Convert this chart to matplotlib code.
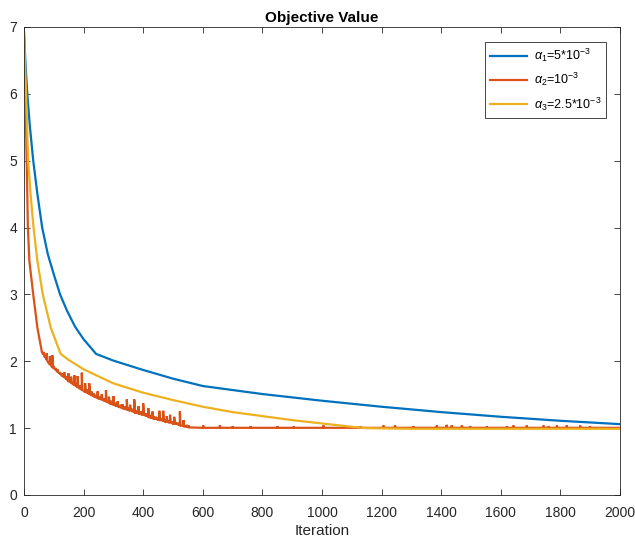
import numpy as np
import matplotlib
matplotlib.use("Agg")
import matplotlib.pyplot as plt

plt.rcParams['font.family'] = ['Liberation Sans', 'DejaVu Sans']
plt.rcParams['mathtext.fontset'] = 'custom'
plt.rcParams['mathtext.rm'] = 'Liberation Sans'
plt.rcParams['mathtext.it'] = 'Liberation Sans:italic'

# ---- data ----
blue_iter = [0, 5, 11, 20, 31, 45, 61, 80, 100, 121, 145, 171, 200, 242,
             300, 400, 500, 600, 700, 800, 900, 1000, 1200, 1400, 1600, 1800, 2000]
blue_val = [6.91, 6.45, 6.0, 5.5, 5.0, 4.5, 4.0, 3.6, 3.3, 3.0, 2.75, 2.52, 2.33, 2.11,
            2.01, 1.87, 1.74, 1.63, 1.57, 1.51, 1.46, 1.41, 1.32, 1.24, 1.17, 1.11, 1.06]

yellow_iter = [0, 3, 7, 14, 22, 32, 45, 63, 90, 123, 150, 200, 300, 400, 500, 600,
               700, 800, 900, 1000, 1100, 1150, 1300, 2000]
yellow_val = [6.91, 6.5, 6.0, 5.0, 4.5, 4.0, 3.5, 3.0, 2.5, 2.11, 2.02, 1.88, 1.67, 1.53,
              1.42, 1.32, 1.24, 1.18, 1.12, 1.07, 1.02, 1.0, 0.99, 0.99]

orange_iter = [0, 2, 5, 9, 13, 18, 31, 45, 60, 70, 80, 100, 121, 150, 205, 250, 289,
               330, 373, 420, 457, 500, 535, 560, 600, 2000]
orange_val = [6.91, 6.4, 6.0, 5.0, 4.0, 3.5, 3.0, 2.5, 2.14, 2.06, 1.99, 1.89, 1.81,
              1.70, 1.54, 1.45, 1.37, 1.30, 1.23, 1.17, 1.12, 1.07, 1.03, 1.01, 1.005, 1.005]

spike_iter = [65, 70, 76, 87, 95, 100, 106, 112, 121, 128, 135, 142, 149, 158, 169,
              175, 180, 187, 194, 205, 212, 219, 226, 233, 240, 247, 254, 261, 268,
              275, 285, 292, 300, 307, 314, 322, 330, 337, 345, 351, 356, 363, 370,
              377, 384, 392, 400, 408, 417, 424, 431, 436, 442, 448, 454, 460, 467,
              473, 479, 485, 490, 497, 504, 510, 517, 523, 535, 545, 552]
spike_foot = [2.10, 2.06, 2.02, 1.95, 1.91, 1.89, 1.87, 1.84, 1.81, 1.78, 1.76, 1.73,
              1.70, 1.68, 1.64, 1.63, 1.61, 1.59, 1.57, 1.54, 1.53, 1.51, 1.49, 1.48,
              1.46, 1.45, 1.44, 1.43, 1.41, 1.40, 1.38, 1.36, 1.35, 1.34, 1.33, 1.31,
              1.30, 1.29, 1.28, 1.27, 1.27, 1.25, 1.24, 1.23, 1.22, 1.21, 1.20, 1.19,
              1.17, 1.16, 1.15, 1.145, 1.14, 1.13, 1.13, 1.12, 1.11, 1.10, 1.10, 1.09,
              1.09, 1.075, 1.07, 1.065, 1.055, 1.045, 1.03, 1.02, 1.015]
spike_peak = [2.14, 2.08, 2.12, 2.08, 2.09, 1.93, 1.90, 1.88, 1.84, 1.82, 1.84, 1.78,
              1.82, 1.77, 1.79, 1.68, 1.78, 1.64, 1.83, 1.67, 1.58, 1.67, 1.55, 1.52,
              1.50, 1.55, 1.48, 1.51, 1.45, 1.57, 1.47, 1.41, 1.48, 1.38, 1.40, 1.35,
              1.36, 1.33, 1.43, 1.31, 1.35, 1.29, 1.43, 1.27, 1.33, 1.25, 1.37, 1.22,
              1.30, 1.20, 1.25, 1.18, 1.17, 1.16, 1.26, 1.15, 1.26, 1.13, 1.18, 1.12,
              1.20, 1.10, 1.17, 1.09, 1.08, 1.25, 1.12, 1.05, 1.04]

bump_iter = [601, 657, 700, 760, 850, 905, 1004, 1128, 1206, 1245, 1306, 1385, 1418,
             1435, 1469, 1497, 1553, 1620, 1642, 1687, 1743, 1759, 1788, 1821, 1866, 1899]
bump_peak = [1.04, 1.04, 1.03, 1.03, 1.03, 1.03, 1.04, 1.03, 1.04, 1.04, 1.03, 1.04,
             1.05, 1.04, 1.04, 1.03, 1.03, 1.03, 1.04, 1.04, 1.04, 1.03, 1.04, 1.04,
             1.04, 1.03]
bump_foot = 1.005

labels = [r'$\alpha_1$=5*10$^{-3}$', r'$\alpha_2$=10$^{-3}$', r'$\alpha_3$=2.5*10$^{-3}$']
colors = ['#0072BD', '#D95319', '#EDB120']
x_ticks = list(range(0, 2001, 200))
y_ticks = list(range(0, 8))

# ---- build orange series from base anchors + spikes ----
pts = [(i, 0, v) for i, v in zip(orange_iter, orange_val)]
for s, f, p in zip(spike_iter, spike_foot, spike_peak):
    pts += [(s, 1, f), (s, 2, p), (s + 2, 3, f)]
for s, p in zip(bump_iter, bump_peak):
    pts += [(s, 1, bump_foot), (s, 2, p), (s + 2, 3, bump_foot)]
pts.sort(key=lambda t: (t[0], t[1]))
o_x = [t[0] for t in pts]
o_y = [t[2] for t in pts]

# ---- figure ----
fig = plt.figure(figsize=(6.35, 5.44), dpi=100)
ax = fig.add_axes([24 / 635, 1 - 495 / 544, 596 / 635, 468 / 544])

lw = 1.6
ax.plot(blue_iter, blue_val, color=colors[0], lw=lw, label=labels[0])
ax.plot(o_x, o_y, color=colors[1], lw=lw, label=labels[1], solid_joinstyle='miter')
ax.plot(yellow_iter, yellow_val, color=colors[2], lw=lw, label=labels[2])

ax.set_xlim(0, 2000)
ax.set_ylim(0, 7)
ax.set_xticks(x_ticks)
ax.set_yticks(y_ticks)
ax.tick_params(direction='in', top=True, right=True, length=4, width=0.6,
               labelsize=10, colors='#262626')
ax.tick_params(axis='x', pad=8)
ax.tick_params(axis='y', pad=5)
for sp in ax.spines.values():
    sp.set_color('#262626')
    sp.set_linewidth(0.6)

ax.set_xlabel('Iteration', fontsize=11, color='#262626', labelpad=2.5)
ax.set_title('Objective Value', fontsize=11, fontweight='bold', pad=3.5)

leg = ax.legend(loc='upper right', bbox_to_anchor=(1 - 14 / 596, 1 - 15 / 468),
                borderaxespad=0, fancybox=False, framealpha=1, edgecolor='#262626',
                fontsize=9, handlelength=3.0, labelspacing=0.55, borderpad=0.4,
                handletextpad=0.5)
leg.get_frame().set_linewidth(0.6)

fig.savefig('out.png', dpi=100)
